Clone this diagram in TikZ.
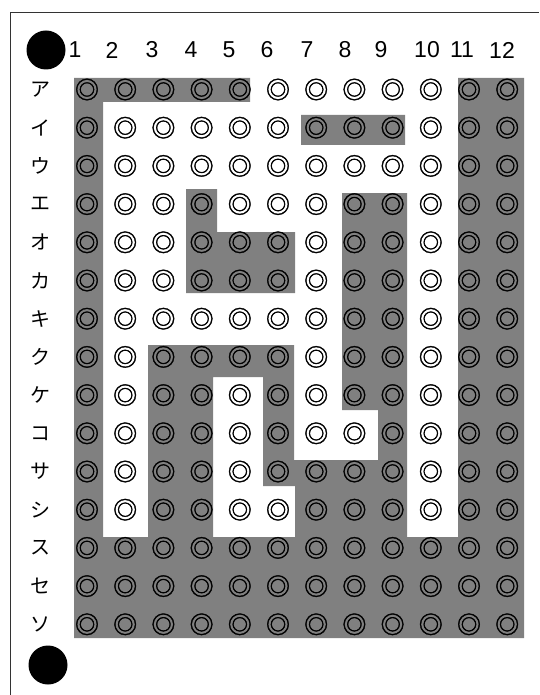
\documentclass[tikz,border=0pt]{standalone}
\usepackage{fontspec}
\setmainfont{Liberation Sans}
\newfontfamily\cjk{Noto Sans CJK JP}
\newfontfamily\cjksym{Noto Sans CJK JP}[FakeBold=1.6]
\definecolor{cellgray}{RGB}{128,128,128}
\tikzset{
  sym/.style={inner sep=0pt, font=\cjksym\fontsize{24}{24}\selectfont},
  rowlab/.style={inner sep=0pt, font=\cjk\fontsize{20}{20}\selectfont},
  collab/.style={inner sep=0pt, font=\fontsize{23}{23}\selectfont},
  bigdot/.style={circle, fill=black, inner sep=0pt, minimum size=39pt},
  frameline/.style={draw=black!80, line width=1pt}
}
\begin{document}
\begin{tikzpicture}[x=1pt,y=-1pt]
\useasboundingbox (0,0) rectangle (539,695);
% frame
\coordinate (fTL) at (10,13);
\coordinate (fTR) at (539,13);
\coordinate (fBL) at (10,695);
\draw[frameline] (fBL) -- (fTL) -- (fTR);
% gray regions
\fill[cellgray]
  (74,78) rectangle (103,638)
  (74,78) rectangle (250,102)
  (458,78) rectangle (524,638)
  (301,115) rectangle (405,145)
  (186,189) rectangle (217,232)
  (186,232) rectangle (295,293)
  (342,193) rectangle (407,410)
  (378,193) rectangle (407,460)
  (148,345) rectangle (294,377)
  (148,345) rectangle (213,638)
  (263,345) rectangle (294,486)
  (263,460) rectangle (407,486)
  (295,460) rectangle (407,638)
  (74,537) rectangle (524,638);
% dots
\node[bigdot] (dotTop) at (46,50) {};
\node[bigdot] (dotBot) at (48,665) {};
% column labels
\foreach \c/\x in {1/75,2/112,3/152,4/191,5/229,6/267,7/307,8/345,9/381,10/427,11/462,12/502}
  \node[collab] (col\c) at (\x,50) {\c};
% row labels
\foreach \k/\t in {1/ア,2/イ,3/ウ,4/エ,5/オ,6/カ,7/キ,8/ク,9/ケ,10/コ,11/サ,12/シ,13/ス,14/セ,15/ソ}
  \node[rowlab] (row\k) at (40,{89.5+38.2*(\k-1)}) {\t};
% symbols
\foreach \r in {1,...,15}
  \foreach \c in {1,...,12}
    \node[sym] (s-\r-\c) at ({87+38.2*(\c-1)},{89.5+38.2*(\r-1)}) {◎};
\end{tikzpicture}
\end{document}
